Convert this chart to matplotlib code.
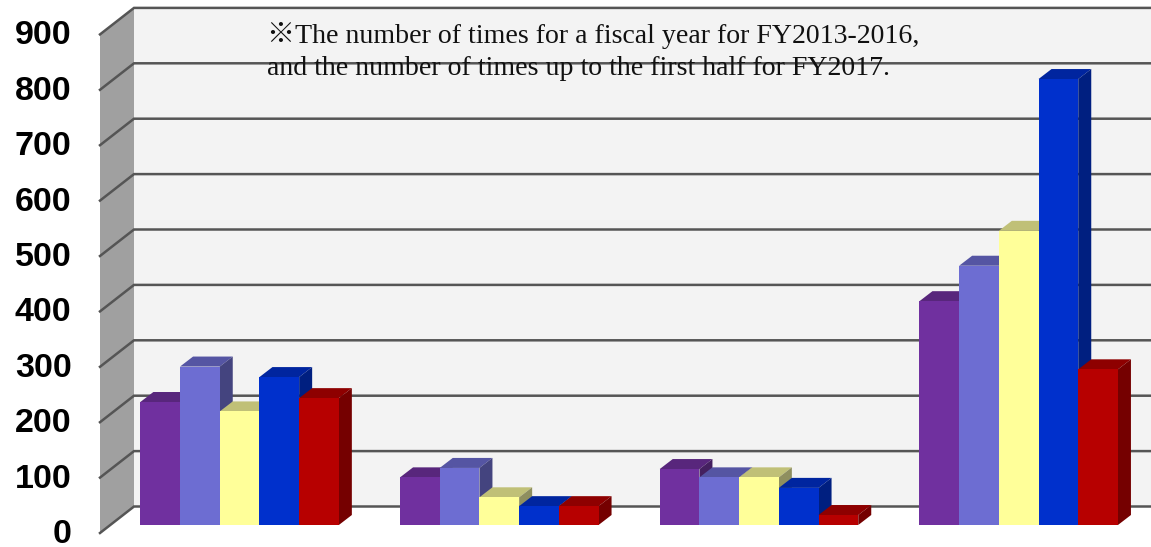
import matplotlib
matplotlib.use("Agg")
import matplotlib.pyplot as plt

categories = ["A", "B", "C", "D"]
years = ["FY2013", "FY2014", "FY2015", "FY2016", "FY2017"]
fy2013 = [222, 86, 101, 404]
fy2014 = [286, 103, 86, 468]
fy2015 = [205, 50, 86, 531]
fy2016 = [267, 34, 67, 805]
fy2017 = [229, 34, 18, 281]
series = [fy2013, fy2014, fy2015, fy2016, fy2017]
front_colors = ["#70309F", "#6D6DD2", "#FFFF99", "#0030CC", "#B70000"]
top_colors = ["#58267C", "#5555A3", "#C0C077", "#00259F", "#8E0000"]
side_colors = ["#44205F", "#44447F", "#8F8F5F", "#001F80", "#750000"]
ticks = [0, 100, 200, 300, 400, 500, 600, 700, 800, 900]
note = ["\u203bThe number of times for a fiscal year for FY2013-2016,",
        "and the number of times up to the first half for FY2017."]

W, H = 1151, 547
PX_V = 55.4 / 100          # pixels per unit value
PX_X = 259.7               # pixels per category
BAR = 39.7 / PX_X
DX, DY = 13 / PX_X, 10 / PX_V       # bar depth
WX, WY = 34 / PX_X, 26.5 / PX_V     # wall depth
X0 = 239.6 / PX_X          # figure left to centre of the first group
Y0 = 22 / PX_V             # figure bottom to the bars' base

fig = plt.figure(figsize=(W / 100, H / 100), dpi=100, facecolor="white")
ax = fig.add_axes([0, 0, 1, 1])
ax.set_xlim(-X0, W / PX_X - X0)
ax.set_ylim(-Y0, H / PX_V - Y0)
ax.axis("off")

# wall geometry, in data units
front_left = 100 / PX_X - X0
front_base = -8 / PX_V
wall_right = W / PX_X - X0
ymax = ticks[-1]
ax.fill([front_left + WX, wall_right, wall_right, front_left + WX],
        [front_base + WY, front_base + WY, front_base + WY + ymax, front_base + WY + ymax],
        color="#F3F3F3", lw=0, zorder=1)
ax.fill([front_left, front_left + WX, front_left + WX, front_left],
        [front_base, front_base + WY, front_base + WY + ymax, front_base + ymax],
        color="#A0A0A0", lw=0, zorder=1)
for t in ticks:
    y = front_base + t
    ax.plot([front_left, front_left + WX, wall_right], [y, y + WY, y + WY],
            color="#555555", lw=1.8, solid_joinstyle="miter", zorder=2)

# bars, painted left to right so nearer faces overlap
z = 3
for g in range(len(categories)):
    for s, values in enumerate(series):
        v = values[g]
        x = g + (s - 2.5) * BAR
        ax.fill([x, x + DX, x + BAR + DX, x + BAR], [v, v + DY, v + DY, v],
                color=top_colors[s], lw=0, zorder=z)
        ax.fill([x + BAR, x + BAR + DX, x + BAR + DX, x + BAR],
                [0, DY, v + DY, v], color=side_colors[s], lw=0, zorder=z)
        ax.bar(x, v, width=BAR, align="edge", color=front_colors[s], lw=0, zorder=z + 0.5)
        z += 1

# value scale along the front edge of the left wall
scale = fig.add_axes([100 / W, (H - 531) / H, (W - 100) / W, 498.6 / H])
scale.patch.set_alpha(0)
scale.set_ylim(0, 900)
scale.set_xticks([])
scale.set_yticks(ticks)
scale.set_yticklabels([str(t) for t in ticks], fontsize=24.5,
                      family="Liberation Sans", fontweight="bold", color="black")
scale.tick_params(axis="y", length=0, pad=20.5)
for sp in scale.spines.values():
    sp.set_visible(False)

for line, py in zip(note, (43, 75)):
    fig.text(267 / W, (H - py) / H, line, fontsize=20.1, color="#111111",
             family=["Liberation Serif", "Noto Sans CJK JP"], va="baseline", ha="left", zorder=50)

fig.savefig("out.png", dpi=100)
